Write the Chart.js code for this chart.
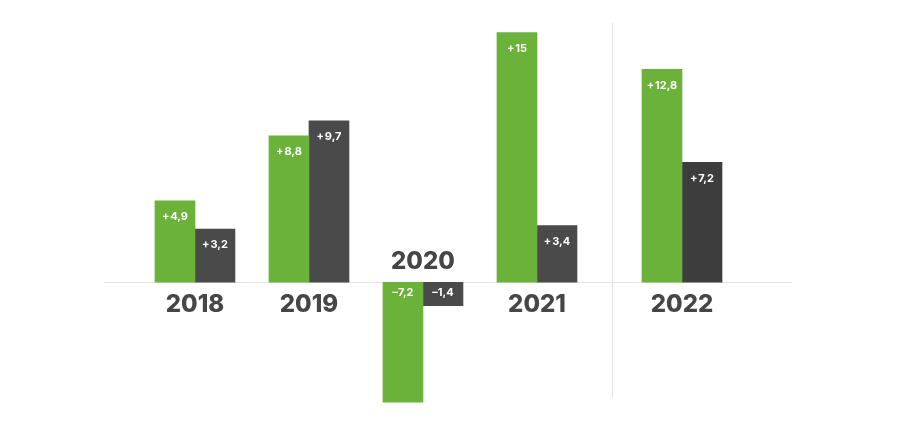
<!DOCTYPE html>
<html>
<head>
<meta charset="utf-8">
<script src="https://cdn.jsdelivr.net/npm/chart.js@4/dist/chart.umd.min.js"></script>
<style>
  html, body { margin: 0; padding: 0; background: #ffffff; }
  #wrap { width: 911px; height: 427px; position: relative; }
</style>
</head>
<body>
<div id="wrap"><canvas id="c" width="911" height="427"></canvas></div>
<script>
const years = ['2018', '2019', '2020', '2021', '2022'];
const greenValues = [4.9, 8.8, -7.2, 15, 12.8];
const grayValues = [3.2, 9.7, -1.4, 3.4, 7.2];

const GREEN = '#6ab23a';
const GRAY = '#4a4a4a';
const GRAY_DARK = '#3d3d3d';
const TEXT = '#464646';

// Category scale with an extra gap before the last category
class GapCategoryScale extends Chart.CategoryScale {
  static id = 'gapcategory';
  getPixelForValue(value) {
    if (typeof value !== 'number') value = this.parse(value);
    if (value === null || isNaN(value)) return NaN;
    const o = this.options;
    const n = this.getLabels().length;
    const u = value + (value >= n - 1 ? o.gapExtra : 0);
    const uMin = -o.padStart;
    const uMax = (n - 1) + o.gapExtra + o.padEnd;
    return this.getPixelForDecimal((u - uMin) / (uMax - uMin));
  }
  getPixelForTick(index) {
    const ticks = this.ticks;
    if (index < 0 || index > ticks.length - 1) return null;
    return this.getPixelForValue(ticks[index].value);
  }
}
Chart.register(GapCategoryScale);

function fmt(v) {
  const s = Math.abs(v).toString().replace('.', ',');
  return (v >= 0 ? '+\u200A' : '\u2013') + s;
}

const decor = {
  id: 'decor',
  beforeDatasetsDraw(chart) {
    const { ctx, chartArea, scales } = chart;
    const y0 = scales.y.getPixelForValue(0);
    ctx.save();
    // zero line
    ctx.strokeStyle = '#e4e4e4';
    ctx.lineWidth = 1;
    ctx.beginPath();
    ctx.moveTo(chartArea.left, Math.round(y0) + 0.5);
    ctx.lineTo(chartArea.right, Math.round(y0) + 0.5);
    ctx.stroke();
    // separator before last category
    const n = years.length;
    const xa = scales.x.getPixelForValue(n - 2);
    const xb = scales.x.getPixelForValue(n - 1);
    const xs = Math.round((xa + xb) / 2 + 3) + 0.5;
    ctx.strokeStyle = '#e2e2e2';
    ctx.beginPath();
    ctx.moveTo(xs, scales.y.getPixelForValue(15.6));
    ctx.lineTo(xs, scales.y.getPixelForValue(-6.95));
    ctx.stroke();
    ctx.restore();
  },
  afterDatasetsDraw(chart) {
    const { ctx, scales } = chart;
    const y0 = scales.y.getPixelForValue(0);
    ctx.save();
    // value labels
    ctx.fillStyle = '#ffffff';
    ctx.font = 'bold 11px Inter, "Open Sans", sans-serif';
    ctx.textAlign = 'center';
    ctx.textBaseline = 'middle';
    chart.data.datasets.forEach((ds, di) => {
      const meta = chart.getDatasetMeta(di);
      meta.data.forEach((el, i) => {
        const v = ds.data[i];
        const y = v >= 0 ? el.y + 16 : el.base + 10;
        ctx.fillText(fmt(v), el.x, y);
      });
    });
    // year labels
    ctx.fillStyle = TEXT;
    ctx.font = '800 24px Inter, "Open Sans", sans-serif';
    years.forEach((yr, i) => {
      const x = scales.x.getPixelForValue(i);
      const neg = greenValues[i] < 0 && grayValues[i] < 0;
      const y = neg ? y0 - 20 : y0 + 23;
      ctx.fillText(yr, x, y);
    });
    ctx.restore();
  }
};

new Chart(document.getElementById('c'), {
  type: 'bar',
  data: {
    labels: years,
    datasets: [
      { data: greenValues, backgroundColor: GREEN, barThickness: 40 },
      { data: grayValues, backgroundColor: [GRAY, GRAY, GRAY, GRAY, GRAY_DARK], barThickness: 40 }
    ]
  },
  options: {
    responsive: false,
    animation: false,
    layout: { padding: { left: 104, right: 119, top: 7.7, bottom: 3.3 } },
    plugins: { legend: { display: false }, tooltip: { enabled: false } },
    scales: {
      x: {
        type: 'gapcategory',
        display: false,
        gapExtra: 0.272,
        padStart: 0.798,
        padEnd: 0.965,
        grid: { display: false }
      },
      y: {
        display: false,
        min: -8.5,
        max: 16.5,
        grid: { display: false }
      }
    }
  },
  plugins: [decor]
});
</script>
</body>
</html>
